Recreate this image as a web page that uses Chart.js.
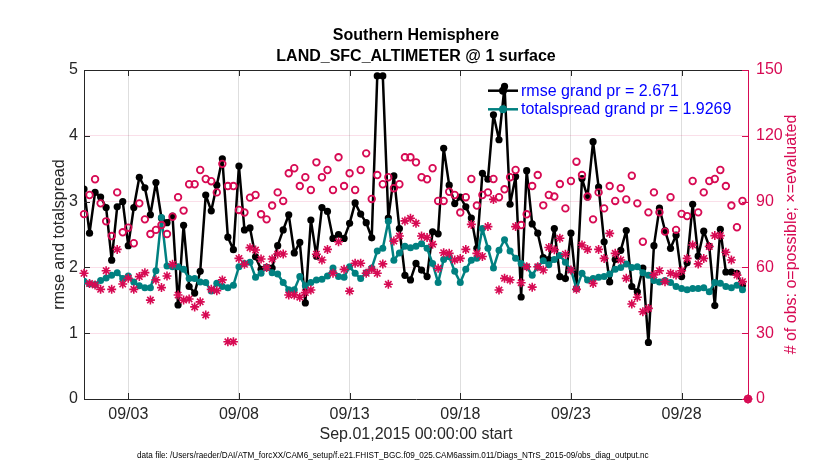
<!DOCTYPE html>
<html><head><meta charset="utf-8">
<script src="https://cdn.jsdelivr.net/npm/chart.js@4.4.1/dist/chart.umd.min.js"></script>
<style>html,body{margin:0;padding:0;background:#fff;}#wrap{width:830px;height:470px;}</style>
</head><body><div id="wrap"><canvas id="c" width="830" height="470"></canvas></div>
<script>
// 6-hourly values starting Sep.01,2015 00:00
const rmse = [3.19,2.52,3.14,3.07,2.91,2.11,2.92,3.00,2.33,2.91,3.37,3.21,2.80,3.29,2.75,2.68,2.78,1.43,2.64,1.71,
1.61,1.94,3.10,2.86,3.25,3.65,2.46,2.27,3.54,2.57,2.60,2.16,1.97,2.00,1.99,2.33,2.57,2.80,2.22,2.38,
1.46,2.72,2.17,2.91,2.85,2.44,2.50,2.44,2.67,2.98,2.81,2.68,2.45,4.91,4.91,2.75,3.39,2.59,1.88,1.81,
2.06,1.96,1.86,2.54,2.51,3.81,3.25,2.97,3.07,2.92,2.75,2.29,3.43,3.34,4.32,3.94,4.75,2.96,3.38,1.55,
3.47,2.66,2.52,2.15,2.12,2.59,1.86,1.83,2.52,1.68,3.35,3.07,3.91,3.22,2.39,1.78,2.12,2.26,2.56,1.71,
1.63,1.99,0.86,2.33,2.90,2.56,2.29,2.49,1.86,2.07,2.96,2.17,2.55,2.32,1.42,2.58,1.93,1.93,1.91,1.73];
const totalspread = [1.79,1.75,1.74,1.80,1.84,1.88,1.92,1.83,1.87,1.78,1.72,1.69,1.69,1.95,2.76,2.02,2.01,2.01,1.97,1.83,
1.83,1.78,1.77,1.64,1.76,1.71,1.69,1.73,2.01,2.06,2.08,1.85,1.91,2.00,1.92,1.90,1.77,1.66,1.66,1.86,
1.72,1.77,1.81,1.82,1.87,1.99,1.86,1.85,2.01,1.91,1.83,1.92,1.99,2.25,2.29,2.70,2.11,2.22,2.32,2.30,
2.32,2.36,2.29,2.06,1.77,2.12,2.16,1.94,1.77,1.97,2.11,2.14,2.59,2.29,1.99,2.26,2.42,2.25,2.14,2.06,
2.01,1.88,2.01,2.10,2.04,2.12,2.18,2.08,1.96,1.68,1.91,1.81,1.83,1.85,1.86,1.90,1.97,2.00,2.05,2.00,
2.01,1.92,1.88,1.80,1.78,1.80,1.77,1.71,1.68,1.66,1.68,1.68,1.69,1.63,1.77,1.76,1.71,1.69,1.73,1.66];
const possible = [84.3,93.0,100.2,89.2,81.0,74.3,94.2,76.0,78.1,71.0,89.2,81.9,75.2,77.1,79.3,75.2,83.1,92.0,85.9,97.9,
97.9,104.4,100.3,99.3,94.2,107.2,97.1,97.1,86.2,85.0,91.8,93.0,84.2,81.9,88.2,94.2,90.3,102.9,105.2,97.1,
101.1,95.3,107.9,101.1,104.4,95.3,110.2,97.1,102.9,95.3,104.4,112.0,91.2,102.1,97.9,101.1,96.1,97.9,110.2,110.2,
107.9,101.1,100.2,105.2,90.3,90.3,94.5,93.0,85.0,92.0,100.3,88.2,93.0,94.2,100.3,92.0,95.6,101.1,104.4,79.3,
84.2,97.1,102.1,88.3,93.0,92.3,98.0,86.9,99.4,108.2,102.1,92.3,81.9,94.2,86.9,97.1,90.3,96.1,91.0,101.8,
89.2,71.7,85.1,94.2,85.1,76.3,92.0,77.1,84.4,83.4,99.4,85.1,94.2,99.4,100.3,104.4,97.1,88.2,78.3,90.3,0];
const evaluated = [57.3,52.7,52.0,50.0,58.5,50.0,68.2,52.4,55.0,50.0,55.8,57.6,45.1,54.3,50.8,56.1,61.4,47.4,45.1,45.6,
42.0,44.3,38.3,50.0,49.4,54.3,26.1,26.1,64.1,61.4,69.0,67.9,63.8,60.0,63.8,66.1,66.1,47.4,47.4,46.4,
48.5,49.7,66.0,63.4,68.2,57.3,71.7,59.1,49.2,61.9,61.9,57.3,59.1,57.3,61.6,52.3,72.0,74.3,81.2,82.4,
80.1,74.3,73.6,70.5,59.6,66.7,66.4,63.4,64.1,68.2,79.6,66.4,65.0,78.6,91.0,49.7,55.0,54.3,78.6,53.0,
60.3,51.0,60.3,58.8,69.1,68.1,73.3,66.0,58.8,50.0,70.2,68.2,52.7,68.2,64.1,75.5,66.4,63.4,55.0,43.3,
46.4,39.8,41.3,56.6,58.5,53.5,57.3,56.5,58.5,64.1,70.2,61.6,64.1,69.5,74.5,74.5,66.9,63.4,56.5,53.5,0];
const stepDays = 0.25;
const xTickDays = [2,7,12,17,22,27];
const xTickLabels = ['09/03','09/08','09/13','09/18','09/23','09/28'];
const leftTicks = [0,1,2,3,4,5];
const rightTicks = [0,30,60,90,120,150];
const titleLines = ['Southern Hemisphere','LAND_SFC_ALTIMETER @ 1 surface'];
const legendLabels = ['rmse grand pr = 2.671','totalspread grand pr = 1.9269'];
const xTitle = 'Sep.01,2015 00:00:00 start';
const yLeftTitle = 'rmse and totalspread';
const yRightTitle = '# of obs: o=possible; \u00d7=evaluated';
const footer = 'data file: /Users/raeder/DAI/ATM_forcXX/CAM6_setup/f.e21.FHIST_BGC.f09_025.CAM6assim.011/Diags_NTrS_2015-09/obs_diag_output.nc';

const BLACK='#000000', TEAL='rgb(0,128,128)', CRIM='rgb(215,10,83)', AX='#262626';
const FONT='"Liberation Sans", Arial, Helvetica, sans-serif';
const pts = arr => arr.map((v,i)=>({x:i*stepDays, y:v}));

const decor = {
  id:'decor',
  afterDraw(chart){
    const ctx=chart.ctx, a=chart.chartArea, xs=chart.scales.x, yl=chart.scales.y, yr=chart.scales.y1;
    ctx.save();
    ctx.strokeStyle=AX; ctx.lineWidth=1;
    ctx.beginPath(); ctx.moveTo(a.left,a.top+0.5); ctx.lineTo(a.right,a.top+0.5); ctx.stroke();
    const L=6;
    ctx.beginPath();
    xTickDays.forEach(d=>{const x=Math.round(xs.getPixelForValue(d))+0.5;
      ctx.moveTo(x,a.bottom); ctx.lineTo(x,a.bottom-L); ctx.moveTo(x,a.top); ctx.lineTo(x,a.top+L);});
    leftTicks.forEach(v=>{const y=Math.round(yl.getPixelForValue(v))+0.5; ctx.moveTo(a.left,y); ctx.lineTo(a.left+L,y);});
    ctx.stroke();
    ctx.strokeStyle=CRIM; ctx.beginPath();
    rightTicks.forEach(v=>{const y=Math.round(yr.getPixelForValue(v))+0.5; ctx.moveTo(a.right,y); ctx.lineTo(a.right-L,y);});
    ctx.stroke();
    ctx.fillStyle='#000'; ctx.textAlign='center'; ctx.textBaseline='middle';
    ctx.font='bold 16px '+FONT;
    const cx=(a.left+a.right)/2;
    ctx.fillText(titleLines[0],cx,36);
    ctx.fillText(titleLines[1],cx,57);
    ctx.font='16px '+FONT; ctx.fillStyle=AX;
    ctx.fillText(xTitle,cx,435);
    const cy=(a.top+a.bottom)/2;
    ctx.save(); ctx.translate(60,cy); ctx.rotate(-Math.PI/2); ctx.fillText(yLeftTitle,0,0); ctx.restore();
    ctx.save(); ctx.fillStyle=CRIM; ctx.translate(792,cy); ctx.rotate(-Math.PI/2); ctx.fillText(yRightTitle,0,0); ctx.restore();
    ctx.fillStyle='#000'; ctx.textAlign='left';
    let fs=8; ctx.font=fs+'px '+FONT;
    const w=ctx.measureText(footer).width; fs=fs*512/w; ctx.font=fs.toFixed(2)+'px '+FONT;
    ctx.fillText(footer,137,456);
    const rows=[[BLACK,legendLabels[0],90.7],[TEAL,legendLabels[1],109.3]];
    rows.forEach(([c,t,y])=>{
      ctx.strokeStyle=c; ctx.lineWidth=2.5; ctx.lineJoin='round'; ctx.beginPath(); ctx.moveTo(488,y); ctx.lineTo(518,y); ctx.stroke();
      ctx.fillStyle=c; ctx.beginPath(); ctx.arc(503,y,4,0,Math.PI*2); ctx.fill();
      ctx.fillStyle='#0000ff'; ctx.font='16px '+FONT; ctx.textAlign='left'; ctx.textBaseline='middle';
      ctx.fillText(t,521,y+0.5);
    });
    ctx.restore();
  }
};

new Chart(document.getElementById('c'),{
  type:'line',
  data:{datasets:[
    {label:'rmse',data:pts(rmse),yAxisID:'y',borderColor:BLACK,backgroundColor:BLACK,borderWidth:2.5,borderJoinStyle:'round',
      pointRadius:3.6,pointStyle:'circle',pointBorderWidth:0,tension:0,order:4},
    {label:'totalspread',data:pts(totalspread),yAxisID:'y',borderColor:TEAL,backgroundColor:TEAL,borderWidth:2.5,borderJoinStyle:'round',
      pointRadius:3.5,pointStyle:'circle',pointBorderWidth:0,tension:0,order:3},
    {label:'possible',data:pts(possible),yAxisID:'y1',showLine:false,borderColor:CRIM,backgroundColor:'rgba(0,0,0,0)',
      pointRadius:3.3,pointBorderWidth:1.8,pointStyle:'circle',clip:false,order:2},
    {label:'evaluated',data:pts(evaluated),yAxisID:'y1',showLine:false,borderColor:CRIM,backgroundColor:CRIM,
      pointRadius:4.5,pointBorderWidth:1.6,pointStyle:'star',clip:false,order:1}
  ]},
  options:{
    responsive:false,animation:false,devicePixelRatio:1,
    layout:{padding:{top:70,left:0,right:0,bottom:0}},
    plugins:{legend:{display:false},tooltip:{enabled:false}},
    scales:{
      x:{type:'linear',min:0,max:30,
        afterBuildTicks:s=>{s.ticks=xTickDays.map(v=>({value:v}));},
        afterFit:s=>{s.height=71;},
        ticks:{callback:(v,i)=>xTickLabels[i],color:AX,font:{size:16,family:FONT},padding:6,maxRotation:0,autoSkip:false},
        grid:{color:'#dedede',drawTicks:false,lineWidth:1},
        border:{color:AX,width:1}},
      y:{position:'left',min:0,max:5,
        afterBuildTicks:s=>{s.ticks=leftTicks.map(v=>({value:v}));},
        afterFit:s=>{s.width=84;},
        ticks:{color:AX,font:{size:16,family:FONT},padding:6},
        grid:{display:false,drawTicks:false},
        border:{color:AX,width:1}},
      y1:{position:'right',min:0,max:150,
        afterBuildTicks:s=>{s.ticks=rightTicks.map(v=>({value:v}));},
        afterFit:s=>{s.width=82;},
        ticks:{color:CRIM,font:{size:16,family:FONT},padding:8},
        grid:{drawTicks:false,color:c=>(c.tick&&(c.tick.value===0||c.tick.value===150))?'rgba(0,0,0,0)':'rgba(215,10,83,0.13)'},
        border:{color:CRIM,width:1}}
    }
  },
  plugins:[decor]
});
</script></body></html>
